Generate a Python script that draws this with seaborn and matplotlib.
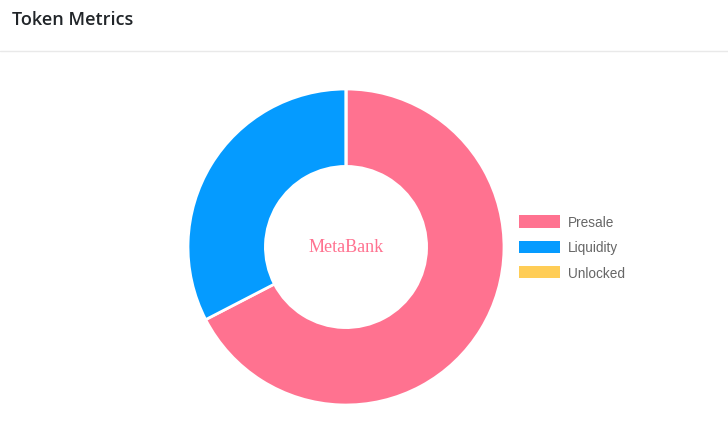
import matplotlib
matplotlib.use('Agg')
import matplotlib.pyplot as plt
import seaborn as sns

sns.set_theme(style='white')

#### DATA ####
labels = ['Presale', 'Liquidity', 'Unlocked']
shares = [67.4, 32.6, 0.0]
colors = ['#FF7290', '#059BFF', '#FFCD56']
center_text = 'MetaBank'
title = 'Token Metrics'

W, H = 728, 439
fig = plt.figure(figsize=(W / 100, H / 100), dpi=100)
fig.patch.set_facecolor('white')

# title + divider
fig.text(12 / W, 1 - 20 / H, title, fontsize=13, color='#212529',
         family=['Open Sans', 'DejaVu Sans'], weight='semibold',
         va='center', ha='left')
fig.add_artist(plt.Line2D([0, 1], [1 - 52 / H, 1 - 52 / H],
                          color='#e9e9e9', linewidth=1))

# donut
cx, cy, r = 346, 248, 158
ax = fig.add_axes([(cx - r) / W, (H - cy - r) / H, 2 * r / W, 2 * r / H])
wedges, _ = ax.pie(shares, colors=colors, startangle=90, counterclock=False,
                   radius=1, wedgeprops=dict(width=0.49, edgecolor='white', linewidth=2))
ax.set_xlim(-1, 1)
ax.set_ylim(-1, 1)
ax.set_aspect('equal')
ax.axis('off')
ax.text(0, 0, center_text, ha='center', va='center', fontsize=13,
        color='#FF7290', family='Liberation Serif')

leg = fig.legend(wedges, labels, loc='upper left',
                 bbox_to_anchor=(507 / W, 1 - 204 / H), frameon=False,
                 handlelength=3.0, handleheight=1.0,
                 handletextpad=0.55, labelspacing=0.82,
                 prop={'family': 'Liberation Sans', 'size': 9.8})
for t in leg.get_texts():
    t.set_color('#666666')
for p in leg.get_patches():
    p.set_linewidth(0)

fig.savefig('out.png', dpi=100, facecolor='white')
